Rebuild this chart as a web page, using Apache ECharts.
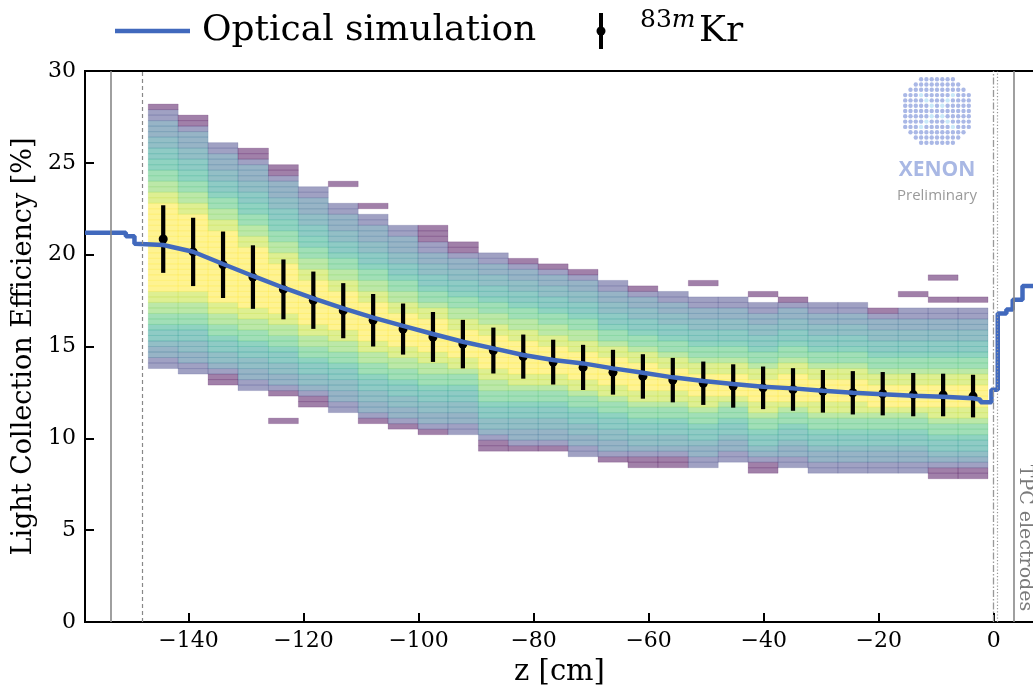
<!DOCTYPE html>
<html>
<head>
<meta charset="utf-8">
<script src="https://cdn.jsdelivr.net/npm/echarts@6/dist/echarts.min.js"></script>
<style>
  html, body { margin: 0; padding: 0; background: #fff; }
  #chart { width: 1033px; height: 686px; }
</style>
</head>
<body>
<div id="chart"></div>
<script>
// z-bin edges of the light-collection histogram columns [cm]
const zEdges = [-147.0, -141.8, -136.6, -131.4, -126.1, -120.9, -115.7, -110.5, -105.3, -100.1,
  -94.9, -89.6, -84.4, -79.2, -74.0, -68.8, -63.6, -58.4, -53.1, -47.9,
  -42.7, -37.5, -32.3, -27.1, -21.9, -16.6, -11.4, -6.2, -1.0];

// LCE bin width [%] and lower edge of the first filled bin in each column
const lceBinWidth = 0.3;
const colBottom = [13.8, 13.5, 12.9, 12.6, 12.3, 11.7, 11.4, 10.8, 10.5, 10.2,
  10.2, 9.3, 9.3, 9.3, 9.0, 8.7, 8.4, 8.4, 8.4, 8.7,
  8.1, 8.4, 8.1, 8.1, 8.1, 8.1, 7.8, 7.8];

// relative density per LCE bin (0 = sparse ... 9 = densest), bottom to top
const cellLevels = [
  '11223445667788999999999' + '9999999887766554433222110',
  '1122334456677889999999' + '9999999887766554433222100',
  '0012334456677889999999' + '9999998877665443322211',
  '112233445667788999999' + '99999887766554433222100',
  '0122334456677889999' + '99999887766554433222100',
  '0012334456677889999' + '999988776655443322211',
  '1122334456677889999' + '9998877665443322211',
  '0122334456677889999' + '9998877665443322211',
  '012233445667788999' + '9998877665443322211',
  '012233445667788999' + '99988766544332211000',
  '1122334456678899' + '9998877665443322100',
  '001233445667788999' + '999887766544332211',
  '01223344566788999' + '999887766544332210',
  '0122334456678899' + '999887766544332210',
  '1122334456678899' + '999887766544332210',
  '0122334456678899' + '99988766544332211',
  '00123344566788999' + '9988766544332210',
  '0012334456678899' + '9988766544332211',
  '112234456678899' + '9988766544332211',
  '11223445667899' + '9988766544332211',
  '001234456678899' + '9988766544332211',
  '11223445667899' + '99988766544332210',
  '112234456678899' + '9988766544332211',
  '112234456678899' + '9988766544332211',
  '11223445667899' + '9988766544332210',
  '11223445667899' + '9988766544332211',
  '001234456678899' + '9988766544332211',
  '001234456678899' + '9988766544332211'
];

// isolated sparse bins: column index and lower LCE edge
const strayCol = [4, 6, 7, 18, 20, 25, 26, 26, 27];
const strayLce = [10.8, 23.7, 22.5, 18.3, 17.7, 17.7, 18.6, 17.4, 17.4];

// 83mKr calibration: bin centre z, mean LCE and spread [%]
const krZ = [-144.4, -139.2, -134.0, -128.8, -123.5, -118.3, -113.1, -107.9, -102.7, -97.5,
  -92.3, -87.0, -81.8, -76.6, -71.4, -66.2, -61.0, -55.8, -50.5, -45.3,
  -40.1, -34.9, -29.7, -24.5, -19.3, -14.0, -8.8, -3.6];
const krMean = [20.85, 20.15, 19.45, 18.78, 18.11, 17.52, 16.95, 16.43, 15.95, 15.52,
  15.13, 14.78, 14.45, 14.15, 13.86, 13.6, 13.37, 13.17, 13.0, 12.85,
  12.75, 12.66, 12.56, 12.48, 12.43, 12.38, 12.36, 12.3];
const krErr = [1.84, 1.86, 1.81, 1.73, 1.63, 1.56, 1.5, 1.43, 1.39, 1.36,
  1.32, 1.25, 1.2, 1.22, 1.23, 1.22, 1.21, 1.21, 1.18, 1.18,
  1.16, 1.16, 1.16, 1.18, 1.18, 1.18, 1.16, 1.16];

// optical simulation curve (z [cm], LCE [%])
const simZ = [-158, -150.9, -150.9, -149.4, -149.4, -144.4, -139.2, -134.0, -128.8, -123.5,
  -118.3, -113.1, -107.9, -102.7, -97.5, -92.3, -87.0, -81.8, -76.6, -71.4,
  -66.2, -61.0, -55.8, -50.5, -45.3, -40.1, -34.9, -29.7, -24.5, -19.3,
  -14.0, -8.8, -3.6, -2.3, -2.3, -0.4, -0.4, 0.7, 0.7, 2.2,
  2.2, 3.3, 3.3, 5.0, 5.0, 7.5];
const simLce = [21.2, 21.2, 21.0, 21.0, 20.6, 20.53, 20.16, 19.49, 18.84, 18.2,
  17.62, 17.08, 16.57, 16.12, 15.68, 15.26, 14.9, 14.54, 14.26, 14.08,
  13.81, 13.57, 13.32, 13.12, 12.96, 12.81, 12.72, 12.59, 12.48, 12.4,
  12.32, 12.27, 12.18, 12.1, 11.97, 11.97, 12.65, 12.65, 16.8, 16.8,
  17.02, 17.02, 17.55, 17.55, 18.3, 18.3];

// detector boundary markers [cm]
const guideZ = [-153.6, -148.1, 0.0, 0.6, 3.5];

// axis ticks
const xTicks = [-140, -120, -100, -80, -60, -40, -20, 0];
const yTicks = [0, 5, 10, 15, 20, 25, 30];

const SERIF = '"DejaVu Serif", "Liberation Serif", serif';
// viridis samples for density levels 0..9
const VIRIDIS = ['#440154', '#414487', '#306a8e', '#277f8e', '#1f988b',
  '#22a884', '#44bf70', '#7ad151', '#bddf26', '#fde725'];
const SIM_BLUE = '#4169bd';

// histogram cells
const heatData = [];
cellLevels.forEach((levels, c) => {
  for (let j = 0; j < levels.length; j++) {
    const lo = +(colBottom[c] + j * lceBinWidth).toFixed(2);
    heatData.push([zEdges[c], zEdges[c + 1], lo, +(lo + lceBinWidth).toFixed(2), +levels[j]]);
  }
});
strayCol.forEach((c, i) => {
  heatData.push([zEdges[c], zEdges[c + 1], strayLce[i], +(strayLce[i] + lceBinWidth).toFixed(2), 0]);
});

const krData = krZ.map((z, i) => [z, krMean[i], krErr[i]]);
const simData = simZ.map((z, i) => [z, simLce[i]]);

const guideStyles = [
  { type: 'solid', color: '#888888', width: 1.6 },
  { type: [4, 3], color: '#888888', width: 1.2 },
  { type: [7, 2, 1.5, 2], color: '#999999', width: 1.3 },
  { type: [1.2, 2], color: '#999999', width: 1.2 },
  { type: 'solid', color: '#888888', width: 1.6 }
];

// XENON logo dots
const logoDots = [];
const LX = 937, LY = 111, LR = 37, STEP = 5.3;
for (let r = -7; r <= 7; r++) {
  for (let c = -7; c <= 7; c++) {
    const dx = c * STEP, dy = r * STEP;
    if (dx * dx + dy * dy > LR * LR) continue;
    const d2 = dx * dx + dy * dy;
    const light = (Math.abs(dx - dy) < 4 || Math.abs(dx + dy) < 4) && d2 < 28 * 28 && d2 > 6 * 6;
    logoDots.push({
      type: 'circle', silent: true,
      shape: { cx: LX + dx, cy: LY + dy, r: 2.2 },
      style: { fill: light ? '#c9e9f8' : '#aab8e6' }
    });
  }
}

const chart = echarts.init(document.getElementById('chart'));

chart.setOption({
  animation: false,
  backgroundColor: '#ffffff',
  grid: {
    left: 85, top: 71, width: 949, height: 551,
    containLabel: false, outerBoundsMode: 'none',
    show: true, borderColor: '#000', borderWidth: 2, backgroundColor: 'transparent'
  },
  xAxis: {
    type: 'value', min: -158, max: 7,
    name: 'z [cm]', nameLocation: 'middle', nameGap: 36,
    nameTextStyle: { fontFamily: SERIF, fontSize: 29, color: '#000' },
    axisLine: { show: true, onZero: false, lineStyle: { color: '#000', width: 2 } },
    axisTick: { show: true, inside: true, length: 9, lineStyle: { color: '#000', width: 2 }, customValues: xTicks },
    axisLabel: {
      customValues: xTicks, margin: 8, color: '#000', fontFamily: SERIF, fontSize: 22,
      formatter: v => String(v).replace('-', '\u2212')
    },
    splitLine: { show: false }
  },
  yAxis: {
    type: 'value', min: 0, max: 30,
    name: 'Light Collection Efficiency [%]', nameLocation: 'middle', nameGap: 46,
    nameTextStyle: { fontFamily: SERIF, fontSize: 27, color: '#000' },
    axisLine: { show: true, onZero: false, lineStyle: { color: '#000', width: 2 } },
    axisTick: { show: true, inside: true, length: 9, lineStyle: { color: '#000', width: 2 }, customValues: yTicks },
    axisLabel: { customValues: yTicks, margin: 9, color: '#000', fontFamily: SERIF, fontSize: 22 },
    splitLine: { show: false }
  },
  series: [
    {
      name: 'LCE distribution',
      type: 'custom', z: 1, silent: true,
      encode: { x: [0, 1], y: [2, 3] },
      data: heatData,
      renderItem(params, api) {
        const a = api.coord([api.value(0), api.value(3)]);
        const b = api.coord([api.value(1), api.value(2)]);
        const col = VIRIDIS[api.value(4)];
        return {
          type: 'rect',
          shape: { x: a[0], y: a[1], width: b[0] - a[0], height: b[1] - a[1] },
          style: { fill: col, stroke: col, lineWidth: 0.35, opacity: 0.5 }
        };
      }
    },
    {
      name: '83mKr',
      type: 'custom', z: 3, silent: true,
      encode: { x: 0, y: 1 },
      data: krData,
      renderItem(params, api) {
        const z = api.value(0), m = api.value(1), e = api.value(2);
        const top = api.coord([z, m + e]);
        const bot = api.coord([z, m - e]);
        const mid = api.coord([z, m]);
        return {
          type: 'group',
          children: [
            { type: 'line', shape: { x1: top[0], y1: top[1], x2: bot[0], y2: bot[1] }, style: { stroke: '#000', lineWidth: 4.2 } },
            { type: 'circle', shape: { cx: mid[0], cy: mid[1], r: 4.5 }, style: { fill: '#000' } }
          ]
        };
      }
    },
    {
      name: 'Optical simulation',
      type: 'line', z: 4, silent: true,
      data: simData,
      showSymbol: false,
      lineStyle: { color: SIM_BLUE, width: 4.5 },
      markLine: {
        silent: true, symbol: ['none', 'none'], label: { show: false },
        data: guideZ.map((z, i) => ({ xAxis: z, lineStyle: guideStyles[i] }))
      }
    }
  ],
  graphic: [
    // legend
    { type: 'line', silent: true, shape: { x1: 115, y1: 31, x2: 190, y2: 31 }, style: { stroke: SIM_BLUE, lineWidth: 4.5 } },
    { type: 'text', silent: true, x: 202, y: 31, style: { text: 'Optical simulation', font: '36px ' + SERIF, fill: '#000', verticalAlign: 'middle' } },
    { type: 'line', silent: true, shape: { x1: 601, y1: 13, x2: 601, y2: 49 }, style: { stroke: '#000', lineWidth: 4 } },
    { type: 'circle', silent: true, shape: { cx: 601, cy: 31, r: 4.5 }, style: { fill: '#000' } },
    {
      type: 'text', silent: true, x: 640, y: 20,
      style: {
        text: '{a|83}{b|m}', verticalAlign: 'middle',
        rich: {
          a: { font: '25px ' + SERIF, fill: '#000' },
          b: { font: 'italic 25px ' + SERIF, fill: '#000' }
        }
      }
    },
    { type: 'text', silent: true, x: 699, y: 32, style: { text: 'Kr', font: '36px ' + SERIF, fill: '#000', verticalAlign: 'middle' } },
    // electrode annotation
    {
      type: 'text', silent: true, x: 1025, y: 538, rotation: -Math.PI / 2,
      style: { text: 'TPC electrodes', font: '19px ' + SERIF, fill: '#7a7a7a', align: 'center', verticalAlign: 'middle' }
    },
    // collaboration mark
    ...logoDots,
    { type: 'text', silent: true, x: 937, y: 170, style: { text: 'XENON', font: 'bold 21px "Open Sans", "DejaVu Sans", sans-serif', fill: '#a9b8e4', align: 'center', verticalAlign: 'middle' } },
    { type: 'text', silent: true, x: 937, y: 196, style: { text: 'Preliminary', font: '15px "Open Sans", "DejaVu Sans", sans-serif', fill: '#9a9a9a', align: 'center', verticalAlign: 'middle' } }
  ]
});
</script>
</body>
</html>
